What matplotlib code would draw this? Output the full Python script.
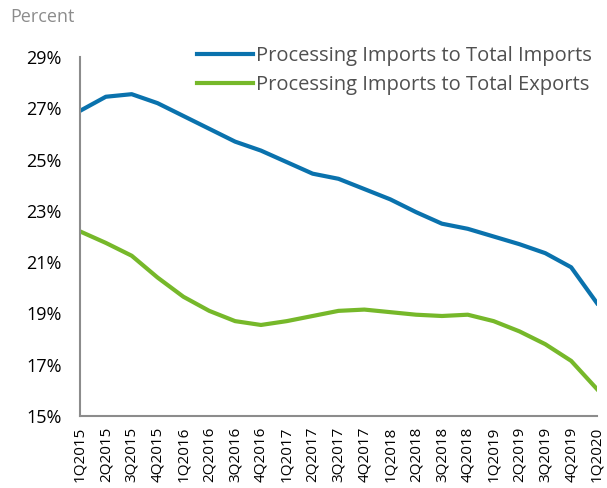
import matplotlib
matplotlib.use("Agg")
import matplotlib.pyplot as plt

quarters = ["1Q2015", "2Q2015", "3Q2015", "4Q2015", "1Q2016", "2Q2016", "3Q2016",
            "4Q2016", "1Q2017", "2Q2017", "3Q2017", "4Q2017", "1Q2018", "2Q2018",
            "3Q2018", "4Q2018", "1Q2019", "2Q2019", "3Q2019", "4Q2019", "1Q2020"]

imports_share = [26.9, 27.45, 27.55, 27.2, 26.7, 26.2, 25.7, 25.35, 24.9, 24.45, 24.25,
                 23.85, 23.45, 22.95, 22.5, 22.3, 22.0, 21.7, 21.35, 20.8, 19.4]
exports_share = [22.2, 21.75, 21.25, 20.4, 19.65, 19.1, 18.7, 18.55, 18.7, 18.9, 19.1,
                 19.15, 19.05, 18.95, 18.9, 18.95, 18.7, 18.3, 17.8, 17.15, 16.05]

y_ticks = [15, 17, 19, 21, 23, 25, 27, 29]

plt.rcParams['font.family'] = ['Open Sans', 'DejaVu Sans']

fig = plt.figure(figsize=(6.07, 4.88), dpi=100)
ax = fig.add_axes([80 / 607, 1 - 416 / 488, 517 / 607, 359 / 488])

x = list(range(len(quarters)))
ax.plot(x, imports_share, color="#0A72AD", lw=3, label="Processing Imports to Total Imports")
ax.plot(x, exports_share, color="#76B82A", lw=3, label="Processing Imports to Total Exports")

ax.set_xlim(0, len(quarters) - 1)
ax.set_ylim(15, 29)
ax.set_yticks(y_ticks)
ax.set_yticklabels([f"{v}%" for v in y_ticks], fontsize=13)
ax.set_xticks(x)
ax.set_xticklabels(quarters, rotation=90, fontsize=11, va="top")
ax.tick_params(length=0)
ax.tick_params(axis="y", pad=13)
ax.tick_params(axis="x", pad=8)

for side in ["top", "right"]:
    ax.spines[side].set_visible(False)
for side in ["left", "bottom"]:
    ax.spines[side].set_color("#8c8c8c")
    ax.spines[side].set_linewidth(1.5)

leg = ax.legend(loc="upper right", bbox_to_anchor=(1.025, 1.08), frameon=False,
                fontsize=14.5, handlelength=2.8, handletextpad=0.15, labelspacing=0.45)
for t in leg.get_texts():
    t.set_color("#505050")

fig.text(10 / 607, 1 - 17 / 488, "Percent", fontsize=13, color="#8c8c8c", va="center")

fig.savefig("out.png", dpi=100)
